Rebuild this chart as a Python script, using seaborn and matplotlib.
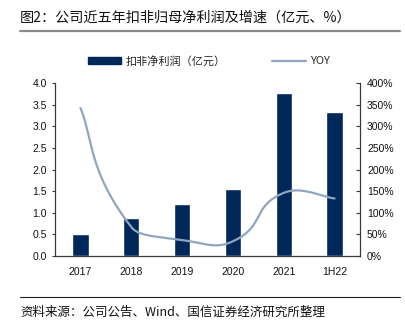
import numpy as np
import pandas as pd
import matplotlib
matplotlib.use("Agg")
import matplotlib.pyplot as plt
from matplotlib.lines import Line2D
from matplotlib.patches import Patch
import seaborn as sns

categories = ["2017", "2018", "2019", "2020", "2021", "1H22"]
profit = [0.50, 0.88, 1.20, 1.56, 3.78, 3.33]      # 亿元
yoy = [342, 67, 37, 34, 146, 133]                   # %
left_ticks = [0.0, 0.5, 1.0, 1.5, 2.0, 2.5, 3.0, 3.5, 4.0]
right_ticks = [0, 50, 100, 150, 200, 250, 300, 350, 400]

title = "图2：公司近五年扣非归母净利润及增速（亿元、%）"
source = "资料来源：公司公告、Wind、国信证券经济研究所整理"
bar_label = "扣非净利润（亿元）"
line_label = "YOY"

BAR_C = "#00275A"
LINE_C = "#8FA6BE"
AX_C = "#3a3a3a"

sns.set_theme(style="white")
plt.rcParams["font.family"] = ["Noto Sans CJK SC", "DejaVu Sans"]

W, H = 406, 327
fig = plt.figure(figsize=(W / 100, H / 100), dpi=100)
ax_box = [55 / W, 1 - 256 / H, (360 - 55) / W, (256 - 83) / H]
ax = fig.add_axes(ax_box)

df = pd.DataFrame({"cat": categories, "profit": profit, "yoy": yoy})
sns.barplot(data=df, x="cat", y="profit", color=BAR_C, width=0.32,
            saturation=1, ax=ax, zorder=2)
ax.set_xlim(-0.5, 5.5)
ax.set_ylim(0, 4)
ax.set_xlabel("")
ax.set_ylabel("")

# Smoothed line: Bezier through data points, control arms computed in
# screen space and weighted by neighbouring segment lengths.
ax2 = ax.twinx()
ax2.set_ylim(0, 400)
sx = ax_box[2] * W / 6.0      # px per category
sy = ax_box[3] * H / 400.0    # px per percent
P = np.column_stack([np.arange(len(yoy)) * sx, np.array(yoy, float) * sy])
n = len(P)
tension = 0.5
cl, cr = [], []
for i in range(n):
    if i == 0:
        cl.append(P[i])
        cr.append(P[i] + tension * 0.5 * (P[i + 1] - P[i]))
        continue
    if i == n - 1:
        cl.append(P[i] - tension * 0.5 * (P[i] - P[i - 1]))
        cr.append(P[i])
        continue
    prev, nxt = P[i - 1], P[i + 1]
    v = nxt - prev
    dp = np.sum((P[i] - prev) ** 2)
    dn = np.sum((nxt - P[i]) ** 2)
    s = dp + dn
    wp, wn = (dp / s, dn / s) if s > 0 else (0.5, 0.5)
    cl.append(P[i] - tension * wp * v)
    cr.append(P[i] + tension * wn * v)
t = np.linspace(0, 1, 60)[:, None]
pts = []
for i in range(n - 1):
    b = ((1 - t) ** 3 * P[i] + 3 * (1 - t) ** 2 * t * cr[i]
         + 3 * (1 - t) * t ** 2 * cl[i + 1] + t ** 3 * P[i + 1])
    pts.append(b)
pts = np.vstack(pts)
curve = pd.DataFrame({"x": pts[:, 0] / sx, "y": pts[:, 1] / sy})
sns.lineplot(data=curve, x="x", y="y", color=LINE_C, linewidth=1.6,
             ax=ax2, sort=False, estimator=None)
ax2.set_xlim(-0.5, 5.5)
ax2.set_xlabel("")
ax2.set_ylabel("")

tickfont = "Liberation Sans"
ax.set_yticks(left_ticks)
ax.set_yticklabels([f"{v:.1f}" for v in left_ticks], fontsize=7.5, family=tickfont)
ax2.set_yticks(right_ticks)
ax2.set_yticklabels([f"{v}%" for v in right_ticks], fontsize=7.5, family=tickfont)
ax.set_xticks(range(len(categories)))
ax.set_xticklabels(categories, fontsize=7.5, family=tickfont)
ax.set_xticks(np.arange(0.5, 5.0, 1.0), minor=True)

ax.tick_params(axis="x", which="major", length=0, pad=8, colors="#111111")
ax.tick_params(axis="x", which="minor", direction="in", length=3, width=0.8, color=AX_C)
ax.tick_params(axis="y", direction="out", length=2.5, width=0.8, pad=3.5,
               color=AX_C, labelcolor="#111111", left=True)
ax2.tick_params(axis="y", direction="in", length=3, width=0.8, pad=5,
                color=AX_C, labelcolor="#111111", right=True)

for a in (ax, ax2):
    for s in a.spines.values():
        s.set_visible(False)
for name in ("left", "bottom"):
    ax.spines[name].set_visible(True)
    ax.spines[name].set_color(AX_C)
    ax.spines[name].set_linewidth(0.9)
ax2.spines["right"].set_visible(True)
ax2.spines["right"].set_color(AX_C)
ax2.spines["right"].set_linewidth(0.9)
ax.grid(False)
ax2.grid(False)

handles = [Patch(facecolor=BAR_C, edgecolor=BAR_C),
           Line2D([0], [0], color=LINE_C, linewidth=1.6)]
fig.legend(handles, [bar_label, line_label], loc="center", ncol=2,
           bbox_to_anchor=(209 / W, 1 - 61 / H), frameon=False,
           fontsize=8, handlelength=3.0, handleheight=0.55, handletextpad=0.4,
           columnspacing=4.2, borderaxespad=0)

fig.text(20 / W, 1 - 18 / H, title, fontsize=10.2, va="center", ha="left", color="#111111")
fig.add_artist(Line2D([20 / W, 400 / W], [1 - 31 / H, 1 - 31 / H], color="#8c8c8c", linewidth=1.6))
fig.add_artist(Line2D([20 / W, 400 / W], [1 - 297 / H, 1 - 297 / H], color="#222222", linewidth=0.8))
fig.text(20 / W, 1 - 312 / H, source, fontsize=9, va="center", ha="left", color="#111111")

fig.savefig("out.png", dpi=100)
